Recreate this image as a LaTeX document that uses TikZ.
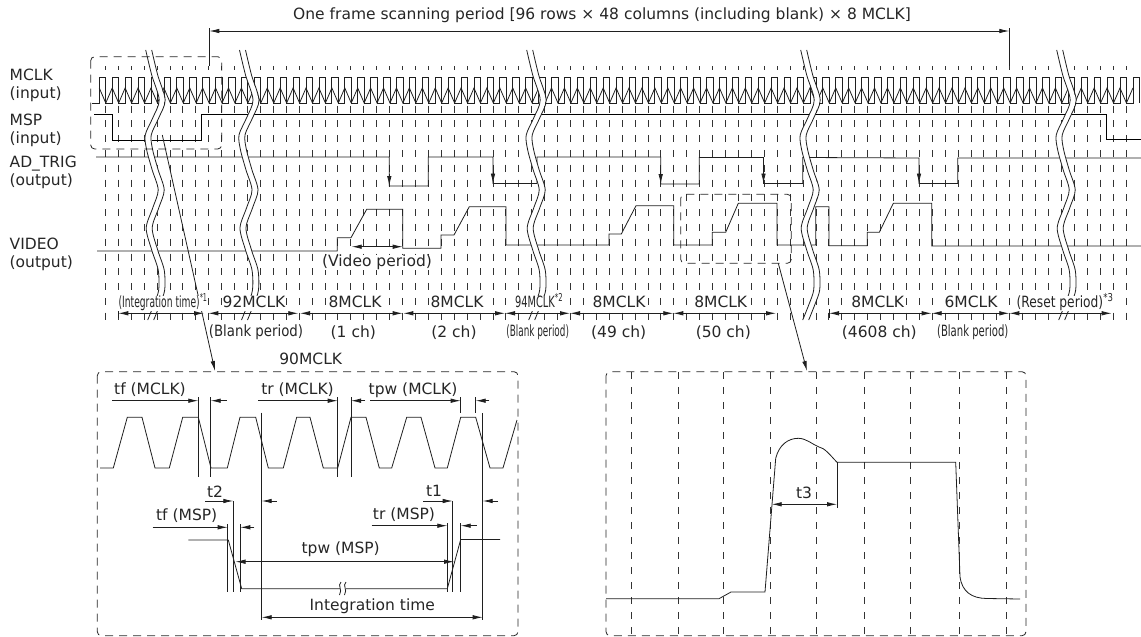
\documentclass[tikz,border=0pt]{standalone}
\usepackage{fontspec}
\setmainfont{DejaVu Sans}
\usetikzlibrary{arrows.meta}
\newcommand{\breakmark}[1]{%
  \fill[white] plot[smooth] coordinates {(#1,50) (#1+6,75) (#1+13.5,100) (#1+7,118) (#1-0.5,135) (#1+1,150) (#1+6.5,170) (#1+12.5,190) (#1+7,208) (#1+0.5,228) (#1+6,250) (#1+12.5,270) (#1+13,290) (#1+8,305) (#1+2,320)} -- (#1+8,320) -- (#1+14,305) -- (#1+19,290) -- (#1+18.5,270) -- (#1+12,250) -- (#1+6.5,228) -- (#1+13,208) -- (#1+18.5,190) -- (#1+12.5,170) -- (#1+7,150) -- (#1+5.5,135) -- (#1+13,118) -- (#1+19.5,100) -- (#1+12,75) -- (#1+6,50) -- cycle;
  \draw[sigline] plot[smooth] coordinates {(#1,50) (#1+6,75) (#1+13.5,100) (#1+7,118) (#1-0.5,135) (#1+1,150) (#1+6.5,170) (#1+12.5,190) (#1+7,208) (#1+0.5,228) (#1+6,250) (#1+12.5,270) (#1+13,290) (#1+8,305) (#1+2,320)};
  \draw[sigline] plot[smooth] coordinates {(#1+6,50) (#1+12,75) (#1+19.5,100) (#1+13,118) (#1+5.5,135) (#1+7,150) (#1+12.5,170) (#1+18.5,190) (#1+13,208) (#1+6.5,228) (#1+12,250) (#1+18.5,270) (#1+19,290) (#1+14,305) (#1+8,320)};
}
\tikzset{
  sigline/.style={line width=0.8pt,color=black!88},
  griddash/.style={line width=0.75pt,color=black!80,dash pattern=on 7pt off 7.8pt},
  boxdash/.style={line width=0.8pt,color=black!85,dash pattern=on 8pt off 6pt,rounded corners=4pt},
  dimboth/.style={sigline,{Latex[length=10pt,width=4.5pt]}-{Latex[length=10pt,width=4.5pt]}},
  dimto/.style={sigline,-{Latex[length=10pt,width=4.5pt]}},
  txt/.style={font=\fontsize{15.5}{18}\selectfont,color=black!85,inner sep=0.5pt},
  rowlab/.style={txt,fill=white,text height=11pt,text depth=3pt},
  sidelab/.style={txt,anchor=west,align=left}
}
\begin{document}
\begin{tikzpicture}[x=1pt,y=-1pt]
  \useasboundingbox (0,0) rectangle (1141,637);
  % grid of the timing chart
  \foreach \k in {0,...,79} {
    \draw[griddash] ({105.3+12.92*\k},66) -- ({105.3+12.92*\k},70);
    \draw[griddash] ({105.3+12.92*\k},105.5) -- ({105.3+12.92*\k},320);
  }
  % MCLK
  \draw[sigline] (92,103) foreach \k in {0,...,80} {-- ({99.3+12.92*\k},103) -- ++(0,-26) -- ++(6.46,0) -- ++(0,26)};
  \draw[sigline] (99.3,88) foreach \k in {0,...,79} {-- ({105.76+12.92*\k},103) -- ({112.22+12.92*\k},88)};
  % MSP
  \draw[sigline,color=black] (94,114.5) -- (112.7,114.5) -- (112.7,140) -- (201.7,140) -- (201.7,114.5) -- (1106,114.5) -- (1106,139) -- (1141,139);
  % AD_TRIG
  \draw[sigline] (96,157) -- (389.3,157) -- (389.3,186) -- (428.3,186) -- (428.3,157) -- (493,157) -- (493,183.5) -- (537,183.5) -- (537,157) -- (660.7,157) -- (660.7,184) -- (699.3,184) -- (699.3,157.5) -- (763.5,157.5) -- (763.5,183.5) -- (802.7,183.5) -- (802.7,157.5) -- (919,158) -- (919,183.5) -- (957.7,183.5) -- (957.7,158) -- (1141,158);
  \foreach \ax/\ay in {389.3/186,493/183.5,660.7/184,763.5/183.5,919/183.5} {
    \draw[dimto] (\ax,\ay-12) -- (\ax,\ay);
  }
  % VIDEO
  \draw[sigline] (97,251) -- (337.3,251) -- (337.3,237.7) -- (351,237.7) -- (366.7,209.3) -- (402.7,209.3) -- (402.7,248.3) -- (441,248.3) -- (441,235) -- (454,235) -- (469.3,206.7) -- (506,206.7) -- (506,245) -- (609,245) -- (609,234) -- (621.3,234) -- (636,205.7) -- (673.7,205.7) -- (673.7,245) -- (712.3,245) -- (712.3,232.3) -- (725.7,232.3) -- (738.3,203.3) -- (777,203.3) -- (777,245) -- (815.7,245) -- (815.7,206.7) -- (829,206.7) -- (829,245.7) -- (867.3,245.7) -- (867.3,232.3) -- (879.3,232.3) -- (893.3,203.3) -- (931.7,203.3) -- (931.7,246) -- (1141,246);
  \foreach \bx in {145.7,239.5,526.7,800.7,1056.7} {
    \breakmark{\bx}
  }
  \draw[dimboth] (351.7,246.7) -- (402.7,246.7);
  \node[rowlab] (videoperiod) at (377,262.7) {(Video period)};
  % dashed boxes and the arrows out of them
  \draw[boxdash] (90.7,56.7) rectangle (221.7,149);
  \draw[boxdash] (680.7,194.3) rectangle (791.3,263.3);
  \draw[dimto] (162.3,135) -- (215,371);
  \draw[dimto] (778.3,263.3) -- (807,371);
  % frame period
  \draw[sigline] (209.3,28) -- (209.3,66);
  \draw[sigline] (1009.3,28) -- (1009.3,66);
  \draw[dimboth] (209.3,31) -- (1009.3,31);
  \node[txt] (frame) at (602,15) {One frame scanning period [96 rows × 48 columns (including blank) × 8 MCLK]};
  % signal names
  \node[sidelab] (mclk) at (9,85) {MCLK\\(input)};
  \node[sidelab] (msp) at (9,130.5) {MSP\\(input)};
  \node[sidelab] (adtrig) at (9,172.5) {AD\_TRIG\\(output)};
  \node[sidelab] (video) at (9,254) {VIDEO\\(output)};
  % row of periods
  \foreach \xa/\xb in {118.3/204,208.3/298.3,300/402.7,403.3/505,505/570,570/673.3,673.3/776,829/931.7,931.7/1009.3,1009.3/1111.7} {
    \draw[dimboth] (\xa,313.3) -- (\xb,313.3);
  }
  \draw[sigline] (118.3,309) -- (118.3,318);
  \draw[sigline] (829,309) -- (829,318);
  \node[rowlab,xscale=0.59] (integ) at (163,303) {(Integration time)\textsuperscript{*1}};
  \node[rowlab] (mclka) at (254,303) {92MCLK};
  \node[rowlab] (mclkb) at (355,303) {8MCLK};
  \node[rowlab] (mclkc) at (457,303) {8MCLK};
  \node[rowlab,xscale=0.635] (mclkd) at (539,303) {94MCLK\textsuperscript{*2}};
  \node[rowlab] (mclke) at (619,303) {8MCLK};
  \node[rowlab] (mclkf) at (720.7,303) {8MCLK};
  \node[rowlab] (mclkg) at (877.7,303) {8MCLK};
  \node[rowlab] (mclkh) at (971,303) {6MCLK};
  \node[rowlab,xscale=0.79] (reset) at (1065,303) {(Reset period)\textsuperscript{*3}};
  \node[txt,xscale=0.86] (blanka) at (256,332.7) {(Blank period)};
  \node[txt] (cha) at (353.3,332.7) {(1 ch)};
  \node[txt] (chb) at (454,332.7) {(2 ch)};
  \node[txt,xscale=0.57] (blankb) at (537.7,332.7) {(Blank period)};
  \node[txt] (chc) at (618.7,332.7) {(49 ch)};
  \node[txt] (chd) at (723.3,332.7) {(50 ch)};
  \node[txt] (che) at (879.3,332.7) {(4608 ch)};
  \node[txt,xscale=0.65] (blankc) at (972.7,332.7) {(Blank period)};
  \node[txt] (ninety) at (310.7,359.3) {90MCLK};
  % left detail
  \draw[boxdash] (97.3,371.7) rectangle (518,635.7);
  \draw[sigline] (100,468) -- (113.3,468) -- (127.3,417.3) -- (142,417.3) -- (155,468) -- (169.3,468) -- (182.7,417.3) -- (198.3,417.3) -- (211,468) -- (227.3,468) -- (240,417.3) -- (255.7,417.3) -- (268.3,468) -- (283.3,468) -- (296.7,417.3) -- (310,417.3) -- (323.3,468) -- (337.7,468) -- (351,417.3) -- (366,417.3) -- (379.3,468) -- (391.7,468) -- (406.7,417.3) -- (421,417.3) -- (435,468) -- (447.3,468) -- (460.7,417.3) -- (475.7,417.3) -- (490,468) -- (503,468) -- (517,420);
  \draw[sigline] (188.3,540) -- (228.3,540) -- (241.7,588.7) -- (447.3,588.7) -- (460.7,539.5) -- (500,539.5);
  \foreach \vx/\vya/\vyb in {198.3/397.3/476.7,210.7/397.3/476.7,261.7/412.7/620,337.7/397/476.7,351/397/476.7,460.7/397/413.3,475.7/397/413.3,482.7/413.3/620,233.3/501/591.7,227.7/524.3/591.7,240.3/524.3/591.7,452.7/501/591.7,447.3/523.3/591.7,460.7/523.3/591.7} {
    \draw[sigline] (\vx,\vya) -- (\vx,\vyb);
  }
  \draw[dimto] (112.3,400.7) -- (198.3,400.7);
  \draw[dimto] (226.7,400.7) -- (210.7,400.7);
  \draw[dimto] (258.3,400.7) -- (337.7,400.7);
  \draw[dimto] (365,400.7) -- (351,400.7);
  \draw[dimto] (370,400.7) -- (460.7,400.7);
  \draw[dimto] (489.3,400.7) -- (475.7,400.7);
  \draw[dimto] (205,501) -- (233.3,501);
  \draw[dimto] (276.7,501) -- (261.7,501);
  \draw[dimto] (423.3,501) -- (452.7,501);
  \draw[dimto] (498,501) -- (482.7,501);
  \draw[dimto] (152.7,527.3) -- (227.7,527.3);
  \draw[dimto] (254.3,527.3) -- (240.3,527.3);
  \draw[dimto] (371.7,525.7) -- (447.3,525.7);
  \draw[dimto] (476.7,525.7) -- (460.7,525.7);
  \draw[dimboth] (235.5,561.7) -- (454,561.7);
  \draw[dimboth] (261.7,617.3) -- (482.7,617.3);
  % line break in the low level of MSP
  \fill[white] (340,584) rectangle (346,594);
  \draw[sigline] (341,582) .. controls (337,586) and (343,589) .. (339.5,595);
  \draw[sigline] (346,582) .. controls (342,586) and (348,589) .. (344.5,595);
  \node[txt] (tfclk) at (150,390) {tf (MCLK)};
  \node[txt] (trclk) at (297.5,390) {tr (MCLK)};
  \node[txt] (tpwclk) at (413,390) {tpw (MCLK)};
  \node[txt] (ttwo) at (215,491.7) {t2};
  \node[txt] (tone) at (434,490.7) {t1};
  \node[txt] (tfmsp) at (186.7,516) {tf (MSP)};
  \node[txt] (trmsp) at (404,515) {tr (MSP)};
  \node[txt] (tpwmsp) at (340.7,549.3) {tpw (MSP)};
  \node[txt] (integtime) at (372.3,606.7) {Integration time};
  % right detail
  \foreach \xa in {631,678.7,723,770.3,816.7,864,910.7,959,1006} {
    \draw[griddash,dash pattern=on 7pt off 8pt] (\xa,372) -- (\xa,635);
  }
  \draw[boxdash] (606,371.7) rectangle (1026,635.7);
  \draw[sigline] (606,598.7) -- (719,598.7) -- (731,592) -- (765,592) -- (775.7,458.3) .. controls (779,445) and (788,438.3) .. (798.3,438.3) .. controls (806,438.3) and (812,444) .. (818.3,446.7) .. controls (825,448) and (830,455) .. (837,462.3) -- (955.7,462.3) -- (960,576.7) .. controls (962,592) and (972,598.3) .. (986.7,598.5) -- (1020,599);
  \draw[sigline] (837,462.3) -- (837,508);
  \draw[dimboth] (771.7,504.3) -- (837,504.3);
  \node[txt] (tthree) at (804,493.3) {t3};
\end{tikzpicture}
\end{document}
